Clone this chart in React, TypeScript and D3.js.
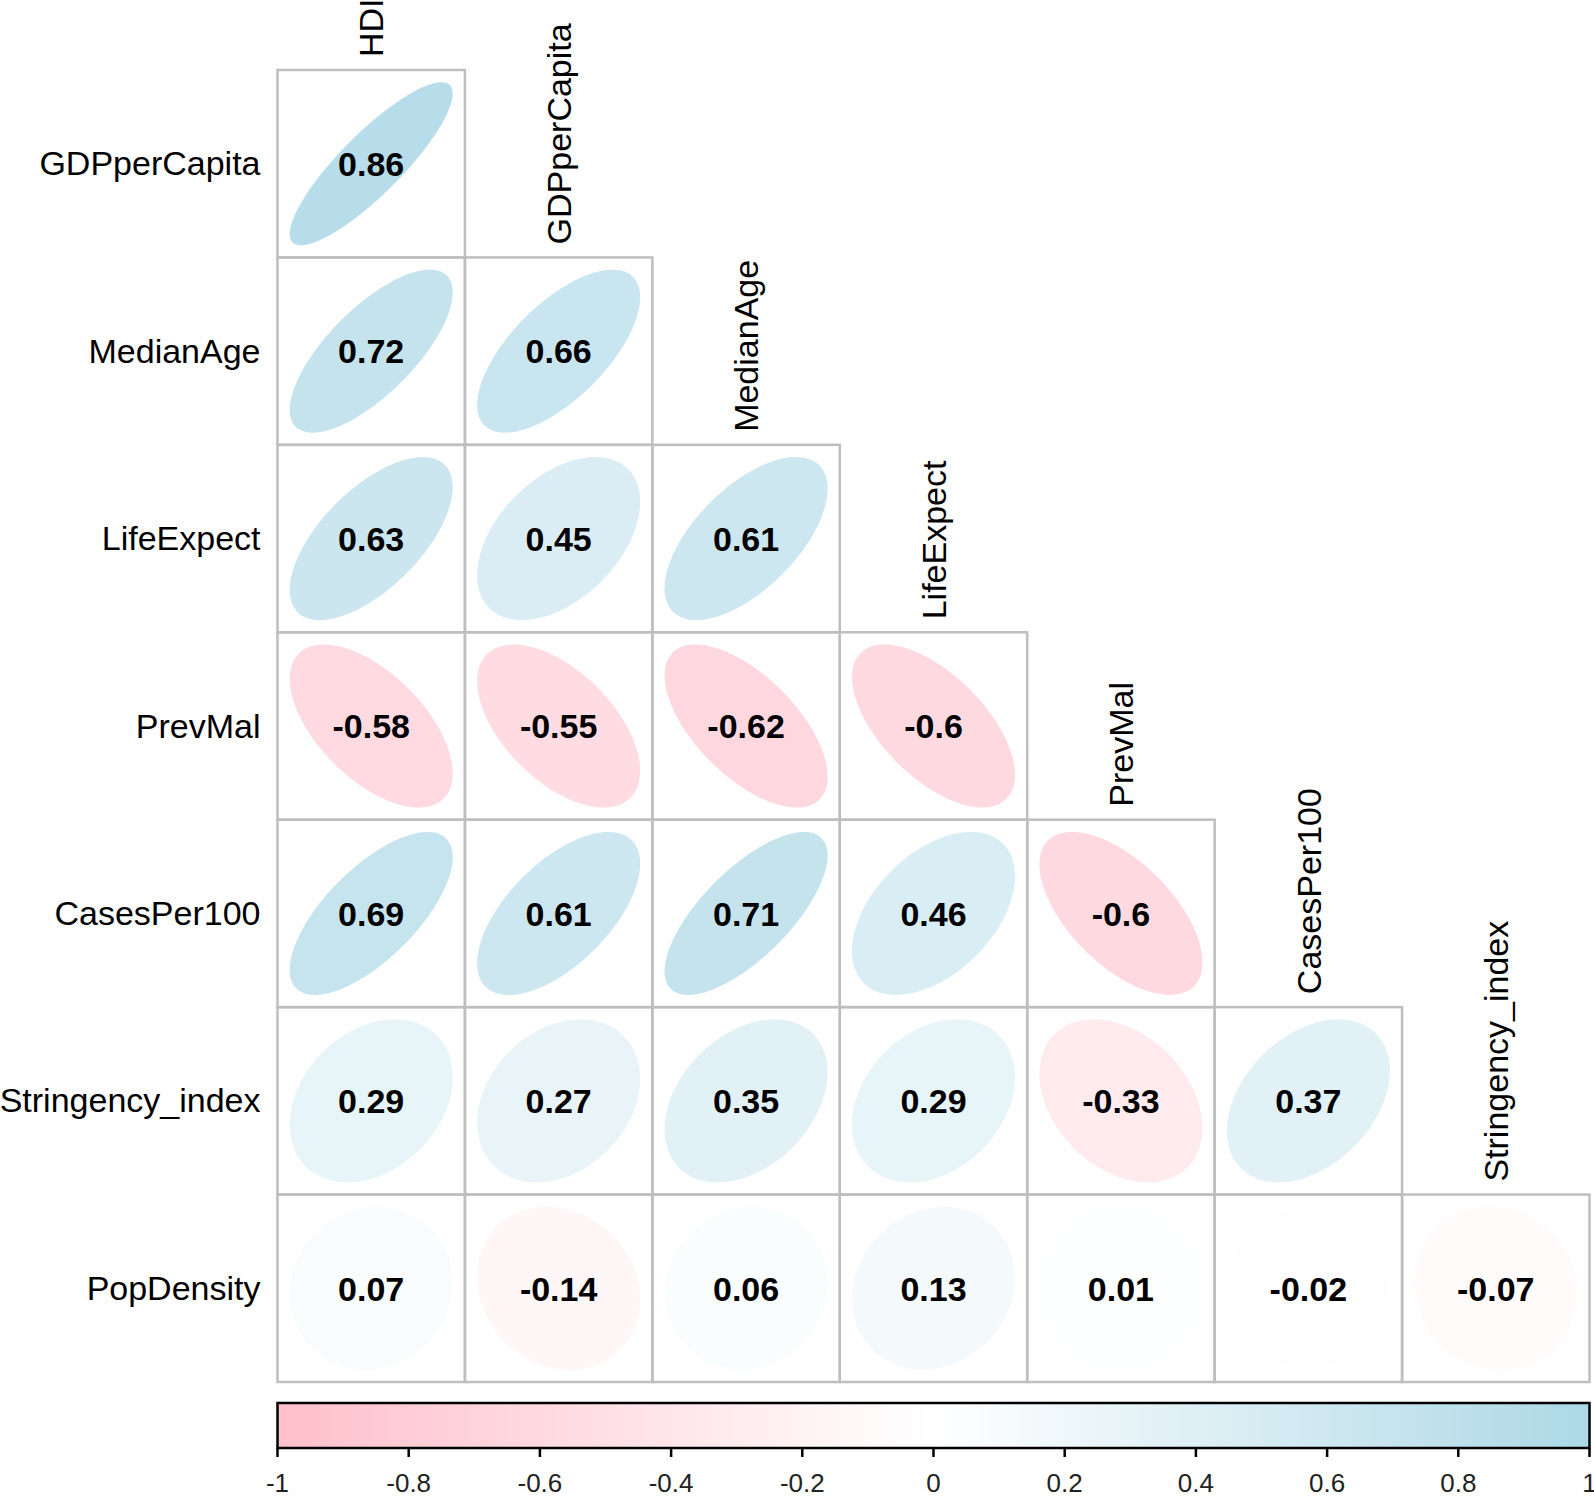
import React from "react";
import * as d3 from "d3";

const rowLabels = ["GDPperCapita", "MedianAge", "LifeExpect", "PrevMal", "CasesPer100", "Stringency_index", "PopDensity"];
const colLabels = ["HDI", "GDPperCapita", "MedianAge", "LifeExpect", "PrevMal", "CasesPer100", "Stringency_index"];

const r0 = [0.86];
const r1 = [0.72, 0.66];
const r2 = [0.63, 0.45, 0.61];
const r3 = [-0.58, -0.55, -0.62, -0.6];
const r4 = [0.69, 0.61, 0.71, 0.46, -0.6];
const r5 = [0.29, 0.27, 0.35, 0.29, -0.33, 0.37];
const r6 = [0.07, -0.14, 0.06, 0.13, 0.01, -0.02, -0.07];
const corrRows = [r0, r1, r2, r3, r4, r5, r6];

const legendTicks = [-1, -0.8, -0.6, -0.4, -0.2, 0, 0.2, 0.4, 0.6, 0.8, 1];

const W = 1594;
const H = 1498;
const gridLeft = 277.5;
const gridRight = 1589.5;
const gridTop = 70;
const cell = (gridRight - gridLeft) / 7;
const gridBottom = gridTop + cell * 7;
const FONT = "'Liberation Sans', Arial, Helvetica, sans-serif";

export default function App() {
  const idx = d3.range(7);
  const x = d3.scaleBand<number>().domain(idx).range([gridLeft, gridRight]);
  const y = d3.scaleBand<number>().domain(idx).range([gridTop, gridBottom]);
  const color = d3
    .scaleLinear<string>()
    .domain([-1, 0, 1])
    .range(["#FFC0CB", "#FFFFFF", "#ADD8E6"])
    .interpolate(d3.interpolateRgb);

  const barTop = 1403;
  const barBottom = 1448;
  const lx = d3.scaleLinear().domain([-1, 1]).range([gridLeft, gridRight]);

  const scale = 0.87;
  const ellipsePath = (r: number, cx: number, cy: number) => {
    const a = Math.acos(r) / 2;
    const ts = d3.range(0, 100).map((i) => (i / 99) * 2 * Math.PI);
    const pts: [number, number][] = ts.map((t) => [
      cx + (scale * cell * Math.cos(t + a)) / 2,
      cy - (scale * cell * Math.cos(t - a)) / 2,
    ]);
    return d3.line().curve(d3.curveLinearClosed)(pts) || "";
  };

  const fmt = (v: number) => String(v);

  return (
    <svg
      width={W}
      height={H}
      style={{ position: "absolute", left: 0, top: 0, background: "#fff" }}
      fontFamily={FONT}
    >
      <defs>
        <linearGradient id="cbar" x1="0" x2="1" y1="0" y2="0">
          <stop offset="0%" stopColor={color(-1)} />
          <stop offset="50%" stopColor={color(0)} />
          <stop offset="100%" stopColor={color(1)} />
        </linearGradient>
      </defs>
      <rect x={0} y={0} width={W} height={H} fill="#fff" />

      {corrRows.map((row, i) =>
        row.map((v, j) => {
          const cx = (x(j) as number) + cell / 2;
          const cy = (y(i) as number) + cell / 2;
          return (
            <g key={`c${i}-${j}`}>
              <path d={ellipsePath(v, cx, cy)} fill={color(v)} stroke="none" />
              <text
                x={cx}
                y={cy}
                dy="0.36em"
                textAnchor="middle"
                fontWeight="bold"
                fontSize={34}
                fill="#000"
              >
                {fmt(v)}
              </text>
            </g>
          );
        })
      )}

      {corrRows.map((row, i) =>
        row.map((_, j) => (
          <rect
            key={`b${i}-${j}`}
            x={x(j) as number}
            y={y(i) as number}
            width={cell}
            height={cell}
            fill="none"
            stroke="#BEBEBE"
            strokeWidth={2.5}
          />
        ))
      )}

      {rowLabels.map((lab, i) => (
        <text
          key={`rl${i}`}
          x={gridLeft - 17}
          y={(y(i) as number) + cell / 2}
          dy="0.34em"
          textAnchor="end"
          fontSize={34}
          fill="#000"
        >
          {lab}
        </text>
      ))}

      {colLabels.map((lab, j) => {
        const cx = (x(j) as number) + cell / 2;
        const ty = (y(j) as number) - 13;
        return (
          <text
            key={`cl${j}`}
            transform={`translate(${cx},${ty}) rotate(-90)`}
            dy="0.36em"
            textAnchor="start"
            fontSize={34}
            fill="#000"
          >
            {lab}
          </text>
        );
      })}

      <rect
        x={gridLeft}
        y={barTop}
        width={gridRight - gridLeft}
        height={barBottom - barTop}
        fill="url(#cbar)"
        stroke="#000"
        strokeWidth={2.5}
      />
      {legendTicks.map((t) => (
        <g key={`t${t}`}>
          <line x1={lx(t)} x2={lx(t)} y1={barBottom} y2={barBottom + 9} stroke="#000" strokeWidth={2.5} />
          <text x={lx(t)} y={1492} textAnchor="middle" fontSize={26} fill="#222">
            {fmt(t)}
          </text>
        </g>
      ))}
    </svg>
  );
}
